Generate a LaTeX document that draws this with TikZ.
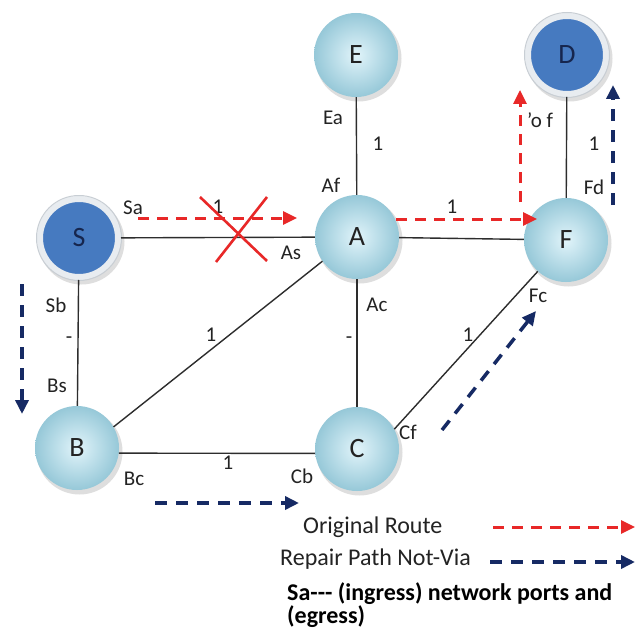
\documentclass[tikz,border=0pt]{standalone}
\usepackage{fontspec}
\setmainfont{Carlito}
\usetikzlibrary{arrows.meta}
\definecolor{nodein}{RGB}{225,244,250}
\definecolor{nodeout}{RGB}{150,200,216}
\definecolor{darkin}{RGB}{70,122,192}
\definecolor{ringc}{RGB}{232,236,240}
\definecolor{ringo}{RGB}{200,206,212}
\definecolor{redr}{RGB}{232,40,40}
\definecolor{navy}{RGB}{22,42,100}
\definecolor{navytxt}{RGB}{22,38,78}
\definecolor{edgec}{RGB}{45,45,45}
\definecolor{txt}{RGB}{35,35,35}
\tikzset{
  lnode/.style={circle, minimum size=84pt, inner sep=0pt, inner color=nodein, outer color=nodeout,
    font=\fontsize{28}{30}\selectfont, text=txt},
  dnode/.style={circle, minimum size=78pt, inner sep=0pt, fill=darkin, draw=ringc, line width=6pt,
    font=\fontsize{28}{30}\selectfont, text=navytxt},
  ring/.style={draw=ringo, line width=1pt},
  shad/.style={fill=black, opacity=0.13},
  edge/.style={draw=edgec, line width=1.4pt},
  redarr/.style={draw=redr, line width=3pt, dash pattern=on 11pt off 8pt, -{Triangle[length=14pt,width=13pt]}},
  navarr/.style={draw=navy, line width=3.5pt, dash pattern=on 12pt off 9pt, -{Triangle[length=14pt,width=13pt]}},
  redx/.style={draw=redr, line width=2.6pt},
  lab/.style={font=\fontsize{21}{22}\selectfont, text=txt, inner sep=0pt},
  leg/.style={font=\fontsize{24}{26}\selectfont, text=txt, inner sep=0pt, anchor=west},
  legb/.style={font=\fontsize{24}{26}\selectfont\bfseries, text=black, inner sep=0pt, anchor=west},
}
\begin{document}
\begin{tikzpicture}[x=1pt,y=-1pt]
\useasboundingbox (0,0) rectangle (636,631);
\fill[white] (0,0) rectangle (636,631);
% shadows
\foreach \p in {(356,55),(567,55),(79,238),(357,237),(566,240),(77,448),(357,449)}
  \fill[shad] \p ++(2.5,3.5) circle (43pt);
% nodes
\node[lnode] (E) at (356,55) {E};
\node[dnode] (D) at (567,55) {D};
\node[dnode] (S) at (79,238) {S};
\node[lnode] (A) at (357,237) {A};
\node[lnode] (F) at (566,240) {F};
\node[lnode] (B) at (77,448) {B};
\node[lnode] (C) at (357,449) {C};
\draw[ring] (D.center) circle (42.5pt);
\draw[ring] (S.center) circle (42.5pt);
% links
\draw[edge] (S) -- (A);
\draw[edge] (E) -- (A);
\draw[edge] (A) -- (F);
\draw[edge] (D) -- (F);
\draw[edge] (A) -- (C);
\draw[edge] (S) -- (B);
\draw[edge] (B.30) -- (A.215);
\draw[edge] (B.-7) -- (C.186);
\draw[edge] (C.28) -- (F.-132);
% link labels
\node[lab] (lSa) at (133,208) {Sa};
\node[lab] (lSA1) at (218,207) {1};
\node[lab] (lAs) at (291,253) {As};
\node[lab] (lEa) at (333,118) {Ea};
\node[lab] (lEA1) at (378,144) {1};
\node[lab] (lAf) at (331,185) {Af};
\node[lab] (lAF1) at (452,207) {1};
\node[lab] (lof) at (540,120) {'o f};
\node[lab] (lDF1) at (594,144) {1};
\node[lab] (lFd) at (594,187) {Fd};
\node[lab] (lFc) at (538,296) {Fc};
\node[lab] (lAc) at (377,305) {Ac};
\node[lab] (lAC1) at (349,340) {-};
\node[lab] (lSb) at (56,305) {Sb};
\node[lab] (lSB1) at (69,340) {-};
\node[lab] (lBs) at (57,386) {Bs};
\node[lab] (lAB1) at (211,335) {1};
\node[lab] (lCF1) at (468,335) {1};
\node[lab] (lCf) at (408,432) {Cf};
\node[lab] (lBC1) at (228,463) {1};
\node[lab] (lBc) at (134,479) {Bc};
\node[lab] (lCb) at (302,476) {Cb};
% failure cross
\coordinate (x1) at (200,197);
\coordinate (x2) at (267,261);
\coordinate (x3) at (267,197);
\coordinate (x4) at (216,262);
\draw[redx] (x1) -- (x2);
\draw[redx] (x3) -- (x4);
% original route
\coordinate (r1s) at (138,218);
\coordinate (r1e) at (297,218);
\coordinate (r2s) at (396,219);
\coordinate (r2e) at (537,219);
\coordinate (r3s) at (520,202);
\coordinate (r3e) at (520,90);
\draw[redarr] (r1s) -- (r1e);
\draw[redarr] (r2s) -- (r2e);
\draw[redarr] (r3s) -- (r3e);
% repair path
\coordinate (n1s) at (22,284);
\coordinate (n1e) at (22,414);
\coordinate (n2s) at (155,503);
\coordinate (n2e) at (299,503);
\coordinate (n3s) at (442,430);
\coordinate (n3e) at (536,311);
\coordinate (n4s) at (613,205);
\coordinate (n4e) at (613,85);
\draw[navarr] (n1s) -- (n1e);
\draw[navarr] (n2s) -- (n2e);
\draw[navarr] (n3s) -- (n3e);
\draw[navarr] (n4s) -- (n4e);
% legend
\node[leg] (lg1) at (303,527) {Original Route};
\coordinate (lr1) at (493,527);
\coordinate (lr2) at (635,527);
\draw[redarr] (lr1) -- (lr2);
\node[leg] (lg2) at (280,559) {Repair Path Not-Via};
\coordinate (ln1) at (490,562);
\coordinate (ln2) at (635,562);
\draw[navarr] (ln1) -- (ln2);
\node[legb] (lg3) at (287,594) {Sa-{}-{}- (ingress) network ports and};
\node[legb] (lg4) at (287,617) {(egress)};
\end{tikzpicture}
\end{document}
